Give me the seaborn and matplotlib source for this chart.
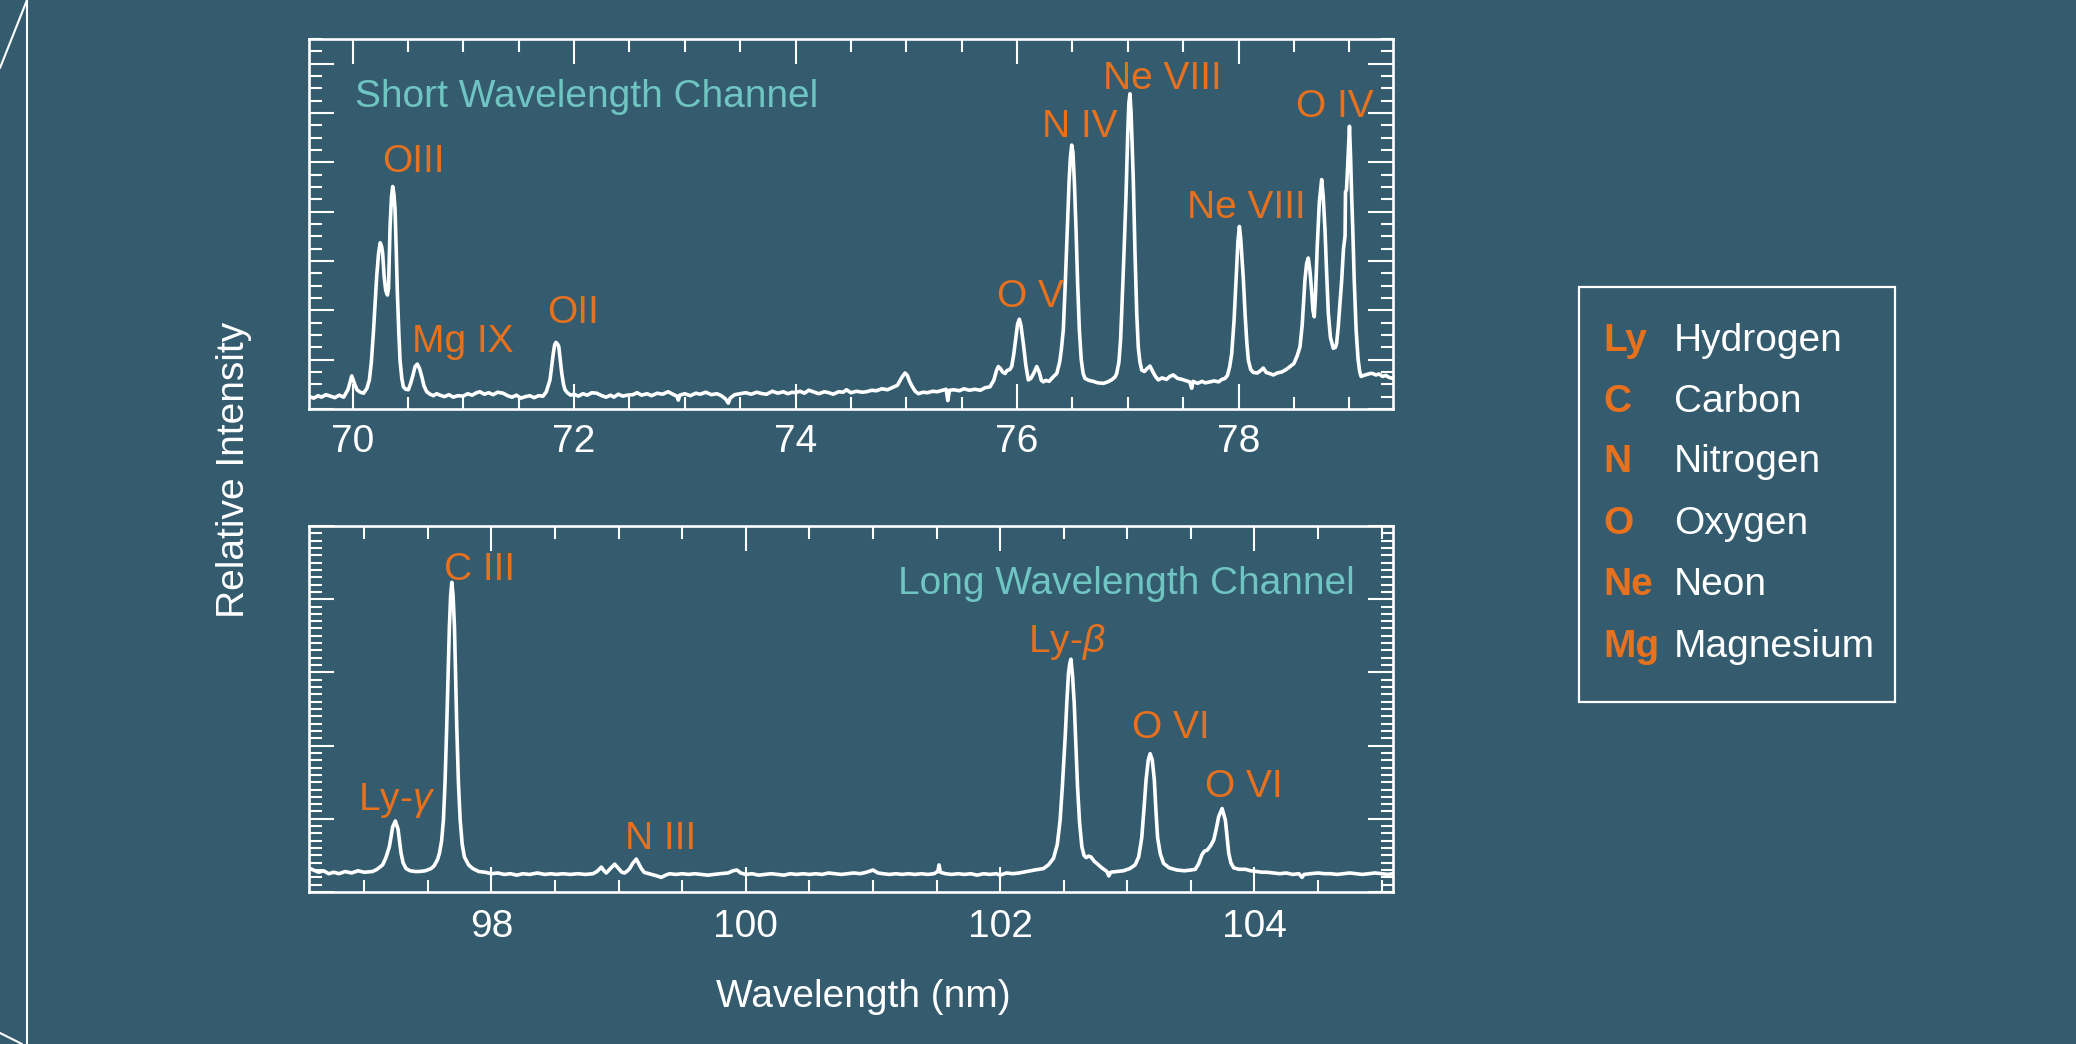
import matplotlib
matplotlib.use("Agg")
import matplotlib.pyplot as plt
from matplotlib.ticker import MultipleLocator, NullFormatter
from matplotlib.patches import Rectangle
from matplotlib.lines import Line2D
import seaborn as sns
import pandas as pd

# ---------------------------------------------------------------------------
# Spectra (wavelength in nm, relative intensity in arbitrary units)
# ---------------------------------------------------------------------------
short_wavelength = [
    69.61, 69.65, 69.69, 69.72, 69.76, 69.80, 69.84, 69.88, 69.92, 69.96,
    69.993, 70.02, 70.04, 70.07, 70.10, 70.13, 70.152, 70.17, 70.188, 70.205,
    70.218, 70.235, 70.25, 70.262, 70.272, 70.285, 70.30, 70.315, 70.325, 70.339,
    70.352, 70.363, 70.374, 70.384, 70.395, 70.405, 70.418, 70.429, 70.445, 70.459,
    70.48, 70.504, 70.525, 70.545, 70.565, 70.585, 70.605, 70.625, 70.645, 70.67,
    70.70, 70.73, 70.76, 70.79, 70.83, 70.87, 70.91, 70.95, 71.00, 71.04,
    71.08, 71.12, 71.15, 71.19, 71.23, 71.27, 71.31, 71.36, 71.40, 71.44,
    71.48, 71.52, 71.56, 71.60, 71.64, 71.68, 71.72, 71.75, 71.783, 71.80,
    71.813, 71.825, 71.837, 71.85, 71.862, 71.875, 71.889, 71.905, 71.919, 71.94,
    71.97, 72.00, 72.04, 72.08, 72.12, 72.16, 72.205, 72.25, 72.29, 72.33,
    72.36, 72.40, 72.44, 72.48, 72.53, 72.57, 72.61, 72.66, 72.70, 72.75,
    72.80, 72.85, 72.90, 72.93, 72.942, 72.955, 73.00, 73.05, 73.10, 73.14,
    73.19, 73.24, 73.29, 73.33, 73.37, 73.393, 73.41, 73.45, 73.50, 73.55,
    73.60, 73.65, 73.70, 73.74, 73.79, 73.84, 73.89, 73.93, 73.97, 74.00,
    74.04, 74.08, 74.12, 74.17, 74.21, 74.26, 74.30, 74.34, 74.39, 74.43,
    74.46, 74.50, 74.55, 74.60, 74.64, 74.69, 74.73, 74.78, 74.83, 74.88,
    74.92, 74.96, 74.989, 75.01, 75.03, 75.05, 75.08, 75.11, 75.15, 75.19,
    75.24, 75.28, 75.33, 75.36, 75.375, 75.39, 75.43, 75.48, 75.52, 75.57,
    75.62, 75.67, 75.71, 75.756, 75.79, 75.815, 75.831, 75.85, 75.87, 75.892,
    75.91, 75.935, 75.952, 75.97, 75.99, 76.005, 76.021, 76.035, 76.057, 76.08,
    76.102, 76.125, 76.15, 76.178, 76.20, 76.22, 76.238, 76.26, 76.29, 76.33,
    76.359, 76.385, 76.40, 76.418, 76.435, 76.454, 76.47, 76.482, 76.494, 76.505,
    76.518, 76.533, 76.548, 76.563, 76.58, 76.597, 76.614, 76.65, 76.69, 76.73,
    76.78, 76.82, 76.86, 76.885, 76.90, 76.92, 76.935, 76.945, 76.965, 76.984,
    77.00, 77.01, 77.020, 77.03, 77.040, 77.050, 77.065, 77.081, 77.095, 77.11,
    77.126, 77.15, 77.175, 77.201, 77.23, 77.25, 77.276, 77.31, 77.35, 77.38,
    77.411, 77.45, 77.49, 77.53, 77.56, 77.577, 77.59, 77.63, 77.67, 77.70,
    77.743, 77.78, 77.82, 77.85, 77.878, 77.90, 77.92, 77.939, 77.96, 77.978,
    77.995, 78.008, 78.02, 78.032, 78.044, 78.06, 78.075, 78.089, 78.11, 78.134,
    78.17, 78.20, 78.224, 78.25, 78.28, 78.314, 78.35, 78.39, 78.43, 78.465,
    78.50, 78.53, 78.555, 78.575, 78.600, 78.615, 78.630, 78.645, 78.661, 78.672,
    78.684, 78.695, 78.711, 78.73, 78.751, 78.765, 78.781, 78.795, 78.811, 78.83,
    78.856, 78.875, 78.886, 78.90, 78.915, 78.932, 78.948, 78.962, 78.966, 78.975,
    78.985, 79.002, 79.012, 79.022, 79.032, 79.045, 79.062, 79.08, 79.095, 79.107,
    79.13, 79.16, 79.19, 79.212, 79.24, 79.27, 79.30, 79.33, 79.36, 79.395,
]
short_intensity = [
    0.25, 0.22, 0.27, 0.24, 0.29, 0.26, 0.23, 0.28, 0.24, 0.40,
    0.67, 0.50, 0.39, 0.34, 0.32, 0.42, 0.59, 0.95, 1.53, 2.20,
    2.68, 3.15, 3.37, 3.30, 3.16, 2.70, 2.40, 2.31, 2.45, 3.70,
    4.30, 4.51, 4.35, 4.04, 3.20, 2.35, 1.55, 0.99, 0.62, 0.45,
    0.40, 0.39, 0.52, 0.68, 0.86, 0.91, 0.82, 0.66, 0.47, 0.35,
    0.30, 0.27, 0.31, 0.28, 0.25, 0.29, 0.24, 0.27, 0.26, 0.31,
    0.28, 0.33, 0.35, 0.30, 0.33, 0.29, 0.34, 0.32, 0.27, 0.24,
    0.28, 0.22, 0.25, 0.27, 0.23, 0.27, 0.26, 0.35, 0.59, 0.90,
    1.13, 1.30, 1.35, 1.32, 1.27, 1.00, 0.73, 0.50, 0.39, 0.33,
    0.28, 0.30, 0.26, 0.31, 0.28, 0.33, 0.32, 0.27, 0.24, 0.28,
    0.24, 0.30, 0.26, 0.28, 0.29, 0.33, 0.28, 0.31, 0.27, 0.32,
    0.30, 0.35, 0.29, 0.26, 0.18, 0.28, 0.31, 0.27, 0.32, 0.30,
    0.34, 0.29, 0.31, 0.27, 0.20, 0.12, 0.22, 0.29, 0.31, 0.33,
    0.30, 0.34, 0.31, 0.30, 0.36, 0.32, 0.35, 0.31, 0.34, 0.33,
    0.36, 0.32, 0.38, 0.34, 0.31, 0.35, 0.33, 0.30, 0.35, 0.34,
    0.39, 0.33, 0.36, 0.34, 0.35, 0.38, 0.37, 0.41, 0.39, 0.44,
    0.48, 0.64, 0.73, 0.68, 0.56, 0.47, 0.36, 0.31, 0.34, 0.33,
    0.36, 0.35, 0.38, 0.40, 0.17, 0.38, 0.39, 0.37, 0.41, 0.38,
    0.40, 0.38, 0.43, 0.45, 0.58, 0.78, 0.86, 0.82, 0.75, 0.72,
    0.78, 0.80, 0.86, 1.10, 1.45, 1.72, 1.82, 1.70, 1.33, 0.88,
    0.59, 0.62, 0.72, 0.86, 0.75, 0.58, 0.55, 0.58, 0.56, 0.66,
    0.72, 0.95, 1.20, 1.60, 2.50, 3.63, 4.60, 5.10, 5.35, 5.20,
    4.60, 3.63, 2.50, 1.60, 1.00, 0.72, 0.62, 0.58, 0.56, 0.53,
    0.52, 0.55, 0.60, 0.65, 0.72, 0.95, 1.40, 1.94, 3.10, 4.31,
    5.60, 6.20, 6.39, 6.00, 5.30, 4.65, 3.20, 1.94, 1.25, 0.95,
    0.79, 0.76, 0.82, 0.87, 0.74, 0.66, 0.59, 0.63, 0.60, 0.66,
    0.69, 0.62, 0.60, 0.57, 0.55, 0.42, 0.56, 0.52, 0.56, 0.53,
    0.55, 0.57, 0.55, 0.60, 0.62, 0.68, 0.85, 1.13, 1.80, 2.62,
    3.40, 3.70, 3.45, 3.05, 2.62, 1.90, 1.35, 0.99, 0.80, 0.74,
    0.73, 0.78, 0.83, 0.74, 0.72, 0.69, 0.73, 0.75, 0.80, 0.86,
    0.92, 1.08, 1.26, 1.70, 2.62, 2.95, 3.06, 2.80, 2.37, 2.00,
    1.87, 2.30, 3.30, 4.20, 4.65, 4.30, 3.63, 2.80, 1.94, 1.45,
    1.23, 1.25, 1.33, 1.65, 2.10, 2.62, 3.25, 3.50, 4.40, 4.44,
    4.90, 5.73, 5.10, 4.30, 3.63, 2.60, 1.60, 1.00, 0.75, 0.66,
    0.68, 0.70, 0.72, 0.72, 0.69, 0.71, 0.66, 0.68, 0.64, 0.62,
]

long_wavelength = [
    96.56, 96.60, 96.64, 96.68, 96.72, 96.76, 96.80, 96.85, 96.90, 96.95,
    97.00, 97.065, 97.10, 97.144, 97.17, 97.197, 97.21, 97.223, 97.244, 97.265,
    97.278, 97.289, 97.305, 97.328, 97.36, 97.40, 97.433, 97.48, 97.525, 97.55,
    97.575, 97.591, 97.608, 97.622, 97.635, 97.648, 97.659, 97.669, 97.679, 97.688,
    97.698, 97.709, 97.718, 97.727, 97.740, 97.754, 97.77, 97.787, 97.82, 97.853,
    97.90, 97.95, 98.00, 98.05, 98.10, 98.15, 98.20, 98.246, 98.30, 98.36,
    98.42, 98.47, 98.509, 98.56, 98.62, 98.68, 98.74, 98.798, 98.83, 98.864,
    98.885, 98.903, 98.935, 98.969, 99.00, 99.025, 99.047, 99.07, 99.087, 99.11,
    99.139, 99.16, 99.179, 99.20, 99.218, 99.26, 99.30, 99.336, 99.37, 99.40,
    99.45, 99.50, 99.55, 99.60, 99.65, 99.70, 99.75, 99.80, 99.86, 99.90,
    99.93, 99.96, 100.00, 100.05, 100.10, 100.15, 100.20, 100.25, 100.30, 100.35,
    100.40, 100.45, 100.50, 100.55, 100.60, 100.65, 100.70, 100.75, 100.80, 100.85,
    100.90, 100.95, 101.00, 101.04, 101.08, 101.13, 101.18, 101.23, 101.28, 101.33,
    101.38, 101.43, 101.48, 101.51, 101.52, 101.53, 101.57, 101.62, 101.67, 101.72,
    101.77, 101.82, 101.87, 101.92, 101.97, 102.00, 102.05, 102.10, 102.15, 102.21,
    102.27, 102.341, 102.38, 102.42, 102.45, 102.472, 102.49, 102.512, 102.525, 102.538,
    102.548, 102.557, 102.570, 102.583, 102.596, 102.609, 102.625, 102.643, 102.66, 102.677,
    102.695, 102.714, 102.74, 102.761, 102.80, 102.84, 102.855, 102.87, 102.92, 102.97,
    103.02, 103.062, 103.09, 103.114, 103.13, 103.148, 103.165, 103.180, 103.197, 103.213,
    103.226, 103.239, 103.26, 103.286, 103.33, 103.391, 103.45, 103.50, 103.535, 103.56,
    103.588, 103.608, 103.628, 103.655, 103.680, 103.70, 103.719, 103.746, 103.772, 103.785,
    103.798, 103.815, 103.837, 103.88, 103.93, 103.97, 104.02, 104.06, 104.10, 104.15,
    104.20, 104.25, 104.30, 104.35, 104.375, 104.39, 104.44, 104.50, 104.55, 104.60,
    104.65, 104.70, 104.75, 104.80, 104.85, 104.90, 104.95, 105.00, 105.05, 105.09,
]
long_intensity = [
    0.33, 0.30, 0.27, 0.29, 0.25, 0.27, 0.25, 0.28, 0.26, 0.29,
    0.27, 0.28, 0.31, 0.37, 0.47, 0.62, 0.75, 0.89, 0.97, 0.86,
    0.68, 0.53, 0.40, 0.32, 0.29, 0.28, 0.28, 0.29, 0.32, 0.36,
    0.44, 0.53, 0.70, 0.98, 1.50, 2.26, 3.00, 3.62, 4.05, 4.23,
    4.05, 3.62, 2.95, 2.26, 1.50, 0.98, 0.65, 0.48, 0.37, 0.32,
    0.28, 0.27, 0.25, 0.26, 0.24, 0.25, 0.23, 0.25, 0.24, 0.26,
    0.24, 0.25, 0.24, 0.25, 0.24, 0.25, 0.24, 0.25, 0.28, 0.34,
    0.29, 0.26, 0.32, 0.38, 0.32, 0.27, 0.26, 0.29, 0.32, 0.39,
    0.45, 0.38, 0.32, 0.27, 0.26, 0.24, 0.22, 0.20, 0.23, 0.25,
    0.24, 0.25, 0.24, 0.25, 0.24, 0.23, 0.24, 0.25, 0.26, 0.29,
    0.30, 0.26, 0.24, 0.25, 0.23, 0.24, 0.25, 0.24, 0.23, 0.25,
    0.24, 0.25, 0.24, 0.25, 0.24, 0.26, 0.25, 0.24, 0.25, 0.26,
    0.25, 0.27, 0.30, 0.26, 0.25, 0.24, 0.25, 0.24, 0.25, 0.24,
    0.25, 0.24, 0.25, 0.28, 0.37, 0.27, 0.25, 0.24, 0.25, 0.24,
    0.25, 0.23, 0.25, 0.24, 0.25, 0.23, 0.26, 0.25, 0.26, 0.28,
    0.30, 0.32, 0.37, 0.46, 0.65, 0.98, 1.45, 2.12, 2.60, 2.99,
    3.12, 3.18, 2.95, 2.58, 2.00, 1.44, 0.95, 0.62, 0.50, 0.47,
    0.49, 0.48, 0.42, 0.39, 0.33, 0.28, 0.22, 0.27, 0.28, 0.29,
    0.32, 0.37, 0.48, 0.74, 1.10, 1.53, 1.80, 1.89, 1.80, 1.53,
    1.10, 0.74, 0.52, 0.39, 0.33, 0.30, 0.29, 0.30, 0.31, 0.38,
    0.51, 0.56, 0.57, 0.63, 0.71, 0.86, 1.03, 1.14, 0.98, 0.75,
    0.53, 0.40, 0.33, 0.31, 0.31, 0.29, 0.28, 0.27, 0.27, 0.26,
    0.25, 0.26, 0.24, 0.25, 0.20, 0.24, 0.25, 0.26, 0.25, 0.25,
    0.24, 0.25, 0.26, 0.25, 0.24, 0.25, 0.26, 0.25, 0.24, 0.25,
]

# Line identifications
short_lines = ["OIII", "Mg IX", "OII", "O V", "N IV", "Ne VIII", "Ne VIII", "O IV"]
long_lines = [r"Ly-$\gamma$", "C III", "N III", r"Ly-$\beta$", "O VI", "O VI"]

# Key of element symbols
key_symbols = ["Ly", "C", "N", "O", "Ne", "Mg"]
key_elements = ["Hydrogen", "Carbon", "Nitrogen", "Oxygen", "Neon", "Magnesium"]

# ---------------------------------------------------------------------------
# Style
# ---------------------------------------------------------------------------
BG = "#345c6e"
ORANGE = "#e8711e"
TEAL = "#6fc5c2"
WHITE = "#ffffff"

sns.set_theme(style="ticks")
plt.rcParams.update({
    "font.family": ["Liberation Sans", "DejaVu Sans"],
    "mathtext.fontset": "custom",
    "mathtext.rm": "Liberation Sans",
    "mathtext.it": "Liberation Sans:italic",
    "axes.facecolor": BG,
    "figure.facecolor": BG,
    "text.color": WHITE,
})

W, H = 2076, 1044
fig = plt.figure(figsize=(W / 100, H / 100), dpi=100)

ax_s = fig.add_axes([309 / W, 1 - 409 / H, (1393 - 309) / W, (409 - 39) / H])
ax_l = fig.add_axes([309 / W, 1 - 892 / H, (1393 - 309) / W, (892 - 526) / H])

short_df = pd.DataFrame({"wavelength": short_wavelength, "intensity": short_intensity})
long_df = pd.DataFrame({"wavelength": long_wavelength, "intensity": long_intensity})

for ax, df in ((ax_s, short_df), (ax_l, long_df)):
    sns.lineplot(data=df, x="wavelength", y="intensity", ax=ax, color=WHITE,
                 linewidth=2.6, estimator=None, sort=False, legend=False)
    for line in ax.get_lines():
        line.set_solid_joinstyle("round")
    ax.set_xlabel("")
    ax.set_ylabel("")
    for sp in ax.spines.values():
        sp.set_color(WHITE)
        sp.set_linewidth(1.9)
    ax.xaxis.set_major_locator(MultipleLocator(2))
    ax.xaxis.set_minor_locator(MultipleLocator(0.5))
    ax.yaxis.set_major_locator(MultipleLocator(1))
    ax.yaxis.set_major_formatter(NullFormatter())
    ax.tick_params(which="both", direction="in", top=True, right=True,
                   colors=WHITE, width=1.5, labelleft=False, labelsize=28)
    ax.tick_params(which="major", length=18)
    ax.tick_params(which="minor", length=9)

ax_s.set_xlim(69.607, 79.395)
ax_s.set_ylim(0, 7.5)
ax_s.yaxis.set_minor_locator(MultipleLocator(0.25))
ax_s.tick_params(axis="x", pad=11)

ax_l.set_xlim(96.565, 105.09)
ax_l.set_ylim(0, 5.0)
ax_l.yaxis.set_minor_locator(MultipleLocator(0.1))
ax_l.tick_params(axis="x", pad=12)

# Line labels
short_label_pos = [(70.551, 4.81), (70.993, 1.156), (71.991, 1.744), (76.122, 2.069),
                   (76.564, 5.517), (77.314, 6.491), (78.072, 3.874), (78.867, 5.923)]
for text, (x, y) in zip(short_lines, short_label_pos):
    ax_s.text(x, y, text, color=ORANGE, fontsize=28, ha="center", va="baseline")

long_label_pos = [(97.256, 1.120), (97.902, 4.262), (99.327, 0.587),
                  (102.520, 3.279), (103.346, 2.104), (103.913, 1.298)]
for text, (x, y) in zip(long_lines, long_label_pos):
    ax_l.text(x, y, text, color=ORANGE, fontsize=28, ha="center", va="baseline")

ax_s.text(70.023, 6.126, "Short Wavelength Channel", color=TEAL, fontsize=28,
          ha="left", va="baseline")
ax_l.text(104.787, 4.071, "Long Wavelength Channel", color=TEAL, fontsize=28,
          ha="right", va="baseline")

# Axis titles shared by both panels
fig.text(863 / W, 1 - 1007 / H, "Wavelength (nm)", color=WHITE, fontsize=28,
         ha="center", va="baseline")
fig.text(234 / W, 1 - 470 / H, "Relative Intensity", color=WHITE, fontsize=28,
         rotation=90, ha="center", va="center")

# Element key
fig.add_artist(Rectangle((1579 / W, 1 - 702 / H), (1895 - 1579) / W, (702 - 287) / H,
                         transform=fig.transFigure, fill=False, edgecolor=WHITE,
                         linewidth=1.6))
key_baselines = [351, 412, 472, 534, 595, 657]
for sym, name, yb in zip(key_symbols, key_elements, key_baselines):
    fig.text(1603 / W, 1 - yb / H, sym, color=ORANGE, fontsize=28,
             fontweight="bold", ha="left", va="baseline")
    fig.text(1674 / W, 1 - yb / H, name, color=WHITE, fontsize=28,
             ha="left", va="baseline")

# Folded-page outline along the left edge
for xs, ys in (([27, 27], [0, H]), ([0, 27], [68, 0]), ([0, 22], [1033, H])):
    fig.add_artist(Line2D([x / W for x in xs], [1 - y / H for y in ys],
                          transform=fig.transFigure, color=WHITE, linewidth=1.5))

fig.savefig("out.png", dpi=100, facecolor=BG)
